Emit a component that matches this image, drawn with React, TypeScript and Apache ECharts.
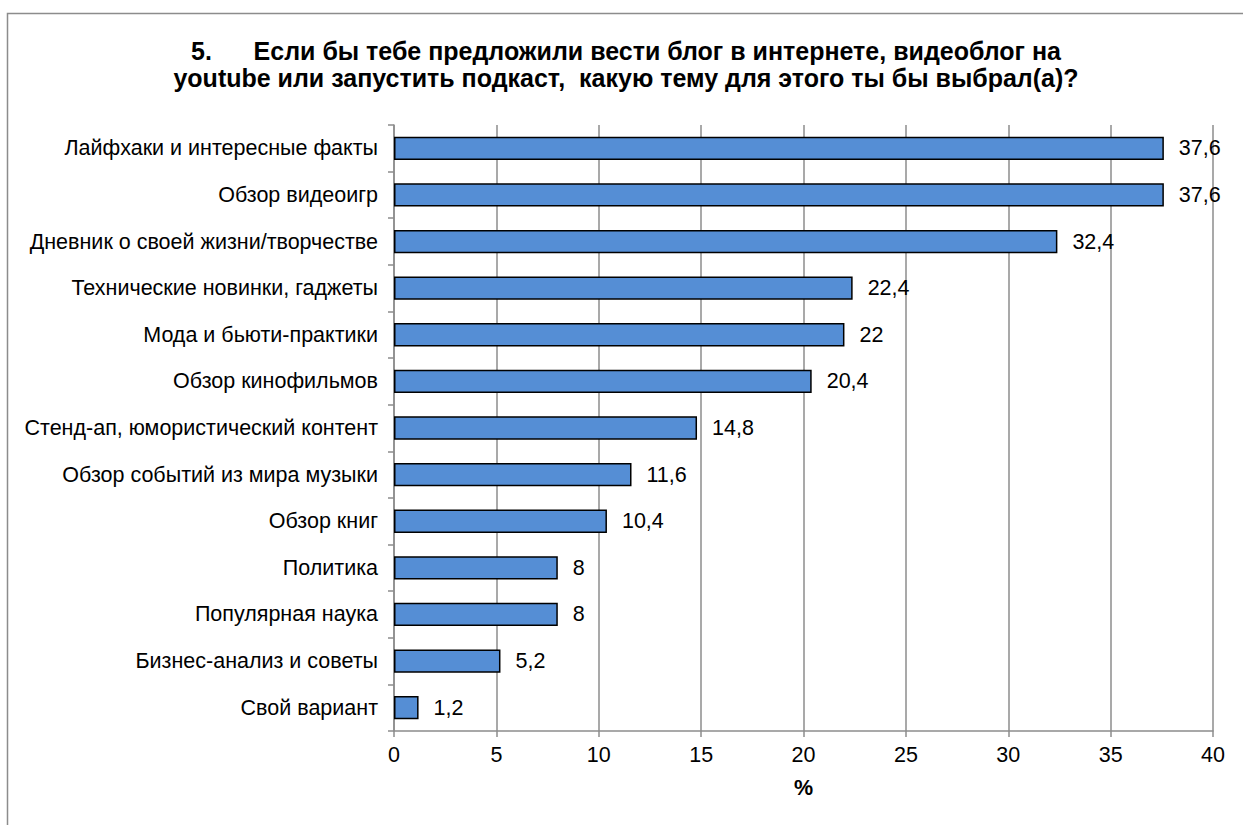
import React, { useEffect, useRef } from "react";
import * as echarts from "echarts";

const categories = [
  "Лайфхаки и интересные факты",
  "Обзор видеоигр",
  "Дневник о своей жизни/творчестве",
  "Технические новинки, гаджеты",
  "Мода и бьюти-практики",
  "Обзор кинофильмов",
  "Стенд-ап, юмористический контент",
  "Обзор событий из мира музыки",
  "Обзор книг",
  "Политика",
  "Популярная наука",
  "Бизнес-анализ и советы",
  "Свой вариант",
];
const values = [37.6, 37.6, 32.4, 22.4, 22, 20.4, 14.8, 11.6, 10.4, 8, 8, 5.2, 1.2];
const titleLines = [
  "5.      Если бы тебе предложили вести блог в интернете, видеоблог на",
  "youtube или запустить подкаст,  какую тему для этого ты бы выбрал(а)?",
];
const axisName = "%";

export default function App() {
  const ref = useRef<HTMLDivElement>(null);
  useEffect(() => {
    document.body.style.margin = "0";
    const chart = echarts.init(ref.current!, null, { renderer: "svg" });
    const font = "'Liberation Sans', Arial, sans-serif";
    const fs = 21.5;
    chart.setOption({
      animation: false,
      backgroundColor: "#fff",
      textStyle: { fontFamily: font },
      title: {
        text: titleLines.join("\n"),
        left: 621,
        textAlign: "center",
        top: 32,
        textStyle: { fontSize: 25, fontWeight: "bold", color: "#000", lineHeight: 27.5, fontFamily: font },
      },
      graphic: [
        {
          type: "rect",
          shape: { x: 7.5, y: 13.5, width: 1260, height: 840 },
          style: { fill: "none", stroke: "#8c8c8c", lineWidth: 1.5 },
          silent: true,
        },
      ],
      grid: { left: 394, right: 30, top: 125, bottom: 94, containLabel: false },
      xAxis: {
        type: "value",
        min: 0,
        max: 40,
        interval: 5,
        name: axisName,
        nameLocation: "middle",
        nameGap: 46,
        nameTextStyle: { fontSize: fs, fontWeight: "bold", color: "#000", fontFamily: font },
        axisLine: { show: true, lineStyle: { color: "#8c8c8c", width: 1.5 } },
        axisTick: { show: true, length: 6, lineStyle: { color: "#8c8c8c", width: 1.5 } },
        axisLabel: { fontSize: fs, color: "#000", margin: 13, fontFamily: font },
        splitLine: { show: true, lineStyle: { color: "#8c8c8c", width: 1.5 } },
      },
      yAxis: {
        type: "category",
        data: categories,
        inverse: true,
        axisLine: { show: true, lineStyle: { color: "#8c8c8c", width: 1.5 } },
        axisTick: { show: true, length: 6, lineStyle: { color: "#8c8c8c", width: 1.5 } },
        axisLabel: { fontSize: fs, color: "#000", margin: 16, fontFamily: font },
        splitLine: { show: false },
      },
      series: [
        {
          type: "bar",
          data: values,
          barWidth: "50%",
          itemStyle: { color: "#558ed5", borderColor: "#000", borderWidth: 1.5 },
          label: {
            show: true,
            position: "right",
            distance: 15,
            fontSize: fs,
            color: "#000",
            fontFamily: font,
            formatter: (p: any) => String(p.value).replace(".", ","),
          },
        },
      ],
    });
    return () => chart.dispose();
  }, []);
  return <div ref={ref} style={{ position: "absolute", left: 0, top: 0, width: 1243, height: 825 }} />;
}
